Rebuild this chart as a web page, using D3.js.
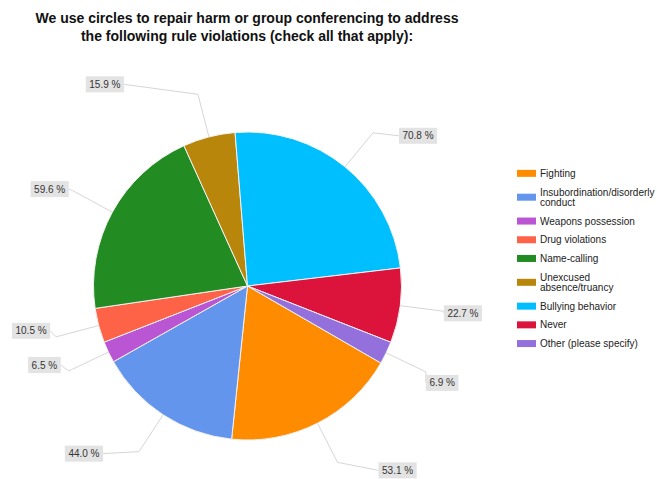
<!DOCTYPE html>
<html>
<head>
<meta charset="utf-8">
<script src="https://cdn.jsdelivr.net/npm/d3@7"></script>
<style>
  html, body { margin: 0; padding: 0; background: #fff; }
  svg { display: block; font-family: "Liberation Sans", Arial, sans-serif; }
</style>
</head>
<body>
<svg id="chart" width="657" height="479"></svg>
<script>
// Survey responses (check all that apply), percent of respondents
const categories = [
  "Fighting",
  "Insubordination/disorderly conduct",
  "Weapons possession",
  "Drug violations",
  "Name-calling",
  "Unexcused absence/truancy",
  "Bullying behavior",
  "Never",
  "Other (please specify)"
];
const values = [53.1, 44.0, 6.5, 10.5, 59.6, 15.9, 70.8, 22.7, 6.9];
const colors = [
  "#ff8c00", "#6495ed", "#ba55d3", "#ff6347", "#228b22",
  "#b8860b", "#00bfff", "#dc143c", "#9370db"
];
const titleLines = [
  "We use circles to repair harm or group conferencing to address",
  "the following rule violations (check all that apply):"
];

// Layout
const cx = 247.5, cy = 286, R = 154, elbowR = 198;
const startDeg = 120;
// outward / vertical shift of each value label from its leader elbow
const labelShift = [[41, 8], [36, 2], [8, -6], [6, -6], [5, -2], [74, -10], [26, 3], [0, 2], [0, 11]];

const svg = d3.select("#chart");

// Title
svg.append("g").selectAll("text")
  .data(titleLines)
  .join("text")
  .attr("x", 247)
  .attr("y", (d, i) => 23 + i * 18)
  .attr("text-anchor", "middle")
  .attr("font-size", 14)
  .attr("font-weight", "bold")
  .attr("fill", "#111")
  .text(d => d);

// Pie
const a0 = startDeg * Math.PI / 180;
const pie = d3.pie().sort(null).value(d => d).startAngle(a0).endAngle(a0 + 2 * Math.PI);
const arcs = pie(values);
const arc = d3.arc().innerRadius(0).outerRadius(R);
const edgeArc = d3.arc().innerRadius(R).outerRadius(R);
const elbowArc = d3.arc().innerRadius(elbowR).outerRadius(elbowR);

const g = svg.append("g").attr("transform", `translate(${cx},${cy})`);

// Leader lines and value labels
const fmt = d3.format(".1f");
const labelG = g.append("g");
const labels = arcs.map((d, i) => {
  const mid = (d.startAngle + d.endAngle) / 2;
  const side = Math.sin(mid) >= 0 ? 1 : -1;
  const e = edgeArc.centroid(d);
  const k = elbowArc.centroid(d);
  const ax = k[0] + side * labelShift[i][0];
  const ay = k[1] + labelShift[i][1];
  return { i, side, e, k, ax, ay, text: fmt(d.value) + " %" };
});

labelG.selectAll("path.leader")
  .data(labels)
  .join("path")
  .attr("class", "leader")
  .attr("d", d => `M${d.e[0]},${d.e[1]}L${d.k[0]},${d.k[1]}L${d.ax},${d.ay}`)
  .attr("fill", "none")
  .attr("stroke", "#d6d6d6")
  .attr("stroke-width", 1);

g.append("g").selectAll("path")
  .data(arcs)
  .join("path")
  .attr("d", arc)
  .attr("fill", (d, i) => colors[i])
  .attr("stroke", "#f2f2f2")
  .attr("stroke-width", 1);

const lab = labelG.selectAll("g.lab")
  .data(labels)
  .join("g")
  .attr("class", "lab");
const labText = lab.append("text")
  .attr("font-size", 10)
  .attr("fill", "#333")
  .attr("dominant-baseline", "central")
  .attr("y", d => d.ay)
  .text(d => d.text);
labText.each(function (d) {
  const w = this.getComputedTextLength();
  d.w = w + 7;
  d.bx = d.side > 0 ? d.ax : d.ax - d.w;
});
labText.attr("x", d => d.bx + 3.5);
lab.insert("rect", "text")
  .attr("x", d => d.bx)
  .attr("y", d => d.ay - 8)
  .attr("width", d => d.w)
  .attr("height", 16)
  .attr("fill", "#e3e3e3");

// Legend
const legend = svg.append("g").attr("transform", "translate(517,0)");
const lineH = 10.3, itemGap = 8.4, wrapW = 118;
const measure = svg.append("text").attr("font-size", 10).attr("visibility", "hidden");
function wrap(str) {
  const words = str.split(" ");
  const lines = [];
  let cur = "";
  words.forEach(w => {
    const t = cur ? cur + " " + w : w;
    measure.text(t);
    if (cur && measure.node().getComputedTextLength() > wrapW) {
      lines.push(cur);
      cur = w;
    } else cur = t;
  });
  lines.push(cur);
  return lines;
}
let legendY = 168.2;
categories.forEach((c, i) => {
  const lines = wrap(c);
  const h = lines.length * lineH;
  const mid = legendY + h / 2;
  const y0 = legendY;
  const item = legend.append("g");
  item.append("rect")
    .attr("x", 0).attr("y", mid - 3.5)
    .attr("width", 19).attr("height", 7)
    .attr("fill", colors[i]);
  item.append("text")
    .attr("font-size", 10)
    .attr("fill", "#222")
    .selectAll("tspan")
    .data(lines)
    .join("tspan")
    .attr("x", 23)
    .attr("y", (d, j) => y0 + lineH * (j + 0.5))
    .attr("dominant-baseline", "central")
    .text(d => d);
  legendY += h + itemGap;
});
measure.remove();
</script>
</body>
</html>
